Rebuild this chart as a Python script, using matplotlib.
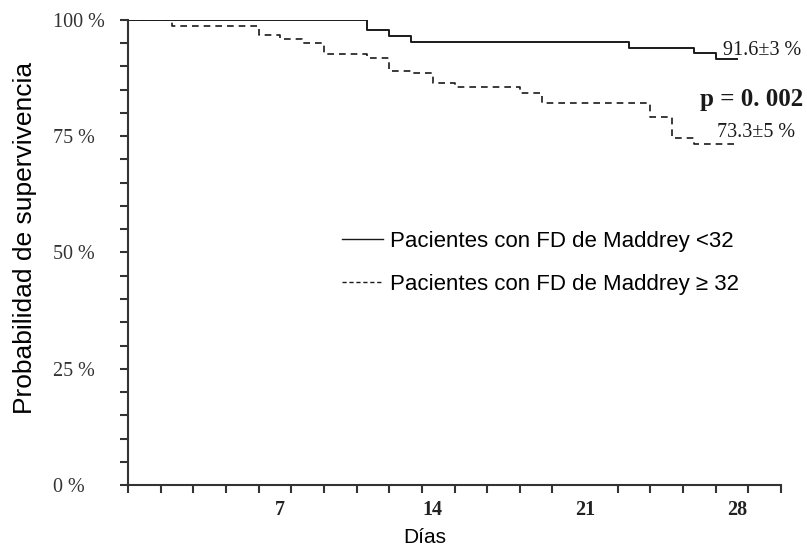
import numpy as np
import matplotlib
matplotlib.use("Agg")
import matplotlib.pyplot as plt
from matplotlib.lines import Line2D

# Kaplan-Meier steps (day, % survival)
dias_menor32 = [0, 11, 12, 13, 23, 26, 27, 28]
surv_menor32 = [100, 97.8, 96.5, 95.2, 94.0, 92.9, 91.6, 91.6]

dias_mayor32 = [0, 2, 6, 7, 8, 9, 11, 12, 13, 14, 15, 18, 19, 24, 25, 26, 28]
surv_mayor32 = [100, 98.7, 96.8, 95.9, 95.0, 92.6, 91.8, 89.0, 88.5, 86.5,
                85.5, 84.2, 82.2, 79.1, 74.6, 73.3, 73.3]

xtick_dias = [7, 14, 21, 28]
ytick_pct = [0, 25, 50, 75, 100]
ytick_labels = ["0 %", "25 %", "50 %", "75 %", "100 %"]
etiquetas = ["Pacientes con FD de Maddrey <32", "Pacientes con FD de Maddrey \u2265 32"]
finales = ["91.6\u00b13 %", "73.3\u00b15 %"]

serif = "Liberation Serif"
sans = "Liberation Sans"
ink = "#1a1a1a"

fig = plt.figure(figsize=(8.07, 5.49), dpi=100)
ax = fig.add_axes([128 / 807, 1 - 485 / 549, 653 / 807, 465 / 549])

ax.step(dias_menor32, surv_menor32, where="post", color=ink, lw=1.4)
ax.step(dias_mayor32, surv_mayor32, where="post", color=ink, lw=1.2,
        linestyle=(0, (4, 3)))

ax.set_xlim(0, 30)
ax.set_ylim(0, 100)

for s in ["top", "right"]:
    ax.spines[s].set_visible(False)
for s in ["left", "bottom"]:
    ax.spines[s].set_color("#333333")
    ax.spines[s].set_linewidth(1.5)

# y: ticks every 5 %, labels every 25 % (left aligned like the original)
ax.set_yticks(ytick_pct)
ax.set_yticks(np.arange(0, 101, 5), minor=True)
ax.set_yticklabels(ytick_labels, fontfamily=serif, fontsize=14.5, color="#333333")
ax.tick_params(axis="y", which="both", direction="out", length=6, width=1.5,
               color="#333333", pad=48)
for lab in ax.get_yticklabels():
    lab.set_horizontalalignment("left")

# x: 20 unlabelled ticks, day labels without ticks
ax.set_xticks(np.linspace(0, 30, 21), minor=True)
ax.set_xticks(xtick_dias)
ax.set_xticklabels([str(d) for d in xtick_dias], fontfamily=serif, fontsize=14.5,
                   fontweight="bold", color="#222222")
ax.tick_params(axis="x", which="minor", direction="out", length=6, width=1.5,
               color="#333333")
ax.tick_params(axis="x", which="major", length=0, pad=11)

ax.set_xlabel("D\u00edas", fontfamily=sans, fontsize=15, va="center")
ax.xaxis.set_label_coords(0.455, -0.112)
ax.set_ylabel("Probabilidad de supervivencia", fontfamily=sans, fontsize=19,
              va="center")
ax.yaxis.set_label_coords(-0.158, 0.532)

ax.text(27.33, 92.5, finales[0], fontfamily=serif, fontsize=14.5, color=ink,
        va="baseline")
ax.text(27.04, 74.8, finales[1], fontfamily=serif, fontsize=14.5, color=ink,
        va="baseline")
ax.text(26.27, 81.5, "p = 0. 002", fontfamily=serif, fontsize=18,
        fontweight="bold", color=ink, va="baseline")

handles = [Line2D([], [], color=ink, lw=1.0),
           Line2D([], [], color=ink, lw=1.0, linestyle=(0, (3, 2)))]
leg = ax.legend(handles, etiquetas, loc="upper left",
                bbox_to_anchor=(342 / 807, 1 - 231 / 549),
                bbox_transform=fig.transFigure, frameon=False,
                prop={"family": sans, "size": 16}, handlelength=1.85,
                handletextpad=0.3, labelspacing=0.98, borderpad=0,
                borderaxespad=0)

fig.savefig("out.png", dpi=100)
